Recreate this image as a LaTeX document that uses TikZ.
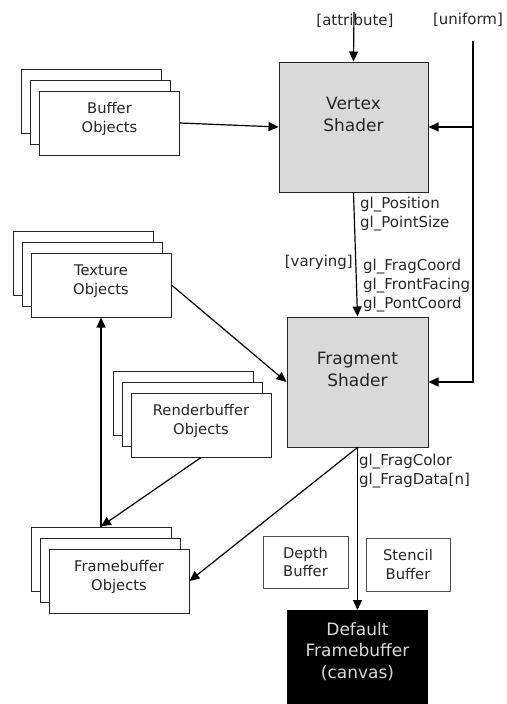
\documentclass[tikz,border=0pt]{standalone}
\usepackage{fontspec}
\setmainfont{DejaVu Sans}
\usetikzlibrary{arrows.meta}

\tikzset{
  objbox/.style={draw=black!85, fill=white, line width=1pt, minimum width=140, minimum height=64,
    inner sep=0pt, align=center, font=\fontsize{14.7}{18.5}\selectfont, text=black!85,
    text depth=11pt},
  shaderbox/.style={draw=black!85, fill=gray!30, line width=1pt, minimum height=130,
    inner sep=0pt, align=center, font=\fontsize{17}{22}\selectfont, text=black!85,
    text depth=26pt},
  bufbox/.style={draw=black!70, fill=white, line width=1pt, minimum width=85, minimum height=52,
    inner sep=0pt, align=center, font=\fontsize{14.7}{18.5}\selectfont, text=black!85},
  lbl/.style={inner sep=0pt, align=left, font=\fontsize{15}{19}\selectfont, text=black!85},
  flow/.style={draw=black, line width=1.2pt, -{Triangle[length=10pt,width=9pt]}},
}

% stack of three object boxes: name, x, y, text
\newcommand\objstack[4]{%
  \node[objbox] (#1-b) at (#2-18,#3-22) {};
  \node[objbox] (#1-m) at (#2-9,#3-11) {};
  \node[objbox] (#1) at (#2,#3) {#4};
}

\begin{document}
\begin{tikzpicture}[x=1pt, y=-1pt]
  \useasboundingbox (0,0) rectangle (506,704);
  \clip (0,0) rectangle (506,704);

  % shaders
  \node[shaderbox, minimum width=149] (vert) at (353.5,127) {Vertex\\Shader};
  \node[shaderbox, minimum width=141] (frag) at (357.5,382) {Fragment\\Shader};

  % object stacks
  \objstack{buf}{109.5}{123}{Buffer\\Objects}
  \objstack{tex}{101}{285}{Texture\\Objects}
  \objstack{rbo}{201}{425}{Renderbuffer\\Objects}
  \objstack{fbo}{119}{581}{Framebuffer\\Objects}

  % default framebuffer
  \node[bufbox] (depth) at (305.5,562) {Depth\\Buffer};
  \node[bufbox, minimum width=84, minimum height=53] (stencil) at (408,564.5) {Stencil\\Buffer};
  \node[fill=black, minimum width=141, minimum height=96, inner sep=0pt, anchor=north,
    align=center, font=\fontsize{17}{21.5}\selectfont, text=white!85!black,
    text depth=16pt] (canvas) at (357.5,610) {Default\\Framebuffer\\(canvas)};

  % inputs
  \node[lbl] (attr) at (355,21) {[attribute]};
  \node[lbl] (unif) at (468,20) {[uniform]};
  \coordinate (attrTop) at (354,12);
  \coordinate (unifTop) at (473,41);

  % variables
  \node[lbl, anchor=west] (vout) at (360,214.5) {gl\_Position\\gl\_PointSize};
  \node[lbl, anchor=east] (vary) at (353,262) {[varying]};
  \node[lbl, anchor=west] (fin) at (363,286) {gl\_FragCoord\\gl\_FrontFacing\\gl\_PontCoord};
  \node[lbl, anchor=west] (fout) at (359,471) {gl\_FragColor\\gl\_FragData[n]};

  % connectors
  \draw[flow] (attrTop) -- (vert.north);
  \draw[flow] (unifTop |- vert.east) -- (vert.east);
  \draw[flow] (unifTop) |- (frag.east);
  \draw[flow] (buf.east) -- (vert.west);
  \draw[flow] (vert.south) -- (frag.north);
  \draw[flow] (tex.east) -- (frag.west);
  \draw[flow] (fbo-b.north) -- (tex.south);
  \draw[flow] (rbo.south) -- (fbo-b.north);
  \draw[flow] (frag.south) -- (fbo.east);
  \draw[flow] (frag.south) -- (canvas.north);
\end{tikzpicture}
\end{document}
